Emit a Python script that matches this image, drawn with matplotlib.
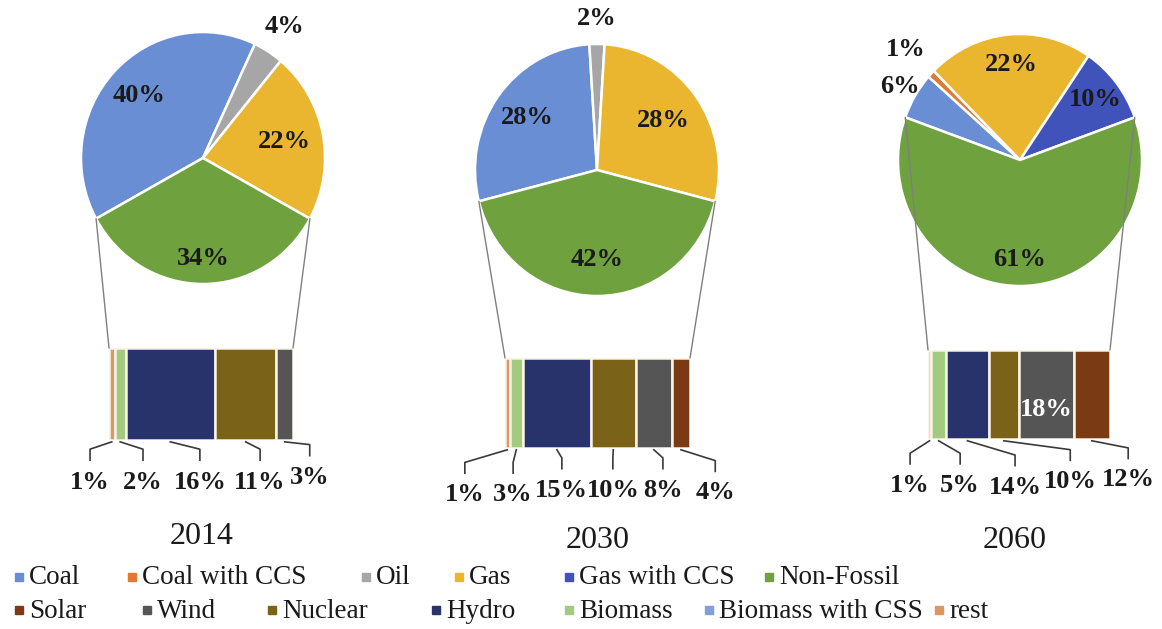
import numpy as np
import matplotlib.pyplot as plt
from matplotlib.patches import ConnectionPatch, Rectangle

plt.rcParams["font.family"] = ["Liberation Serif", "DejaVu Serif"]

W, H = 1162, 629

# ----- data -----

years = ["2014", "2030", "2060"]

pie_2014_names = ["Coal", "Oil", "Gas", "Non-Fossil"]
pie_2014_values = [40, 4, 22, 34]
pie_2030_names = ["Coal", "Oil", "Gas", "Non-Fossil"]
pie_2030_values = [28, 2, 28, 42]
pie_2060_names = ["Coal", "Coal with CCS", "Gas", "Gas with CCS", "Non-Fossil"]
pie_2060_values = [6, 1, 22, 10, 61]

bar_2014_names = ["rest", "Biomass", "Hydro", "Nuclear", "Wind"]
bar_2014_values = [1, 2, 16, 11, 3]
bar_2030_names = ["rest", "Biomass", "Hydro", "Nuclear", "Wind", "Solar"]
bar_2030_values = [1, 3, 15, 10, 8, 4]
bar_2060_names = ["rest", "Biomass", "Hydro", "Nuclear", "Wind", "Solar"]
bar_2060_values = [1, 5, 14, 10, 18, 12]

legend_row1 = ["Coal", "Coal with CCS", "Oil", "Gas", "Gas with CCS", "Non-Fossil"]
legend_row2 = ["Solar", "Wind", "Nuclear", "Hydro", "Biomass", "Biomass with CSS", "rest"]

# ----- style / layout -----

colors = {
    "Coal": "#6A8ED4",
    "Coal with CCS": "#DF7A36",
    "Oil": "#A6A6A6",
    "Gas": "#EAB630",
    "Gas with CCS": "#4053BB",
    "Non-Fossil": "#6FA23E",
    "Solar": "#7A3B14",
    "Wind": "#555555",
    "Nuclear": "#7A6318",
    "Hydro": "#27336A",
    "Biomass": "#A3CB7F",
    "Biomass with CSS": "#7FA0DC",
    "rest": "#DE9663",
}

pies = {
    "2014": (pie_2014_names, pie_2014_values),
    "2030": (pie_2030_names, pie_2030_values),
    "2060": (pie_2060_names, pie_2060_values),
}
bars = {
    "2014": (bar_2014_names, bar_2014_values),
    "2030": (bar_2030_names, bar_2030_values),
    "2060": (bar_2060_names, bar_2060_values),
}

# pie centre (px) and radii
pie_center = {"2014": (203, 158), "2030": (597, 170), "2060": (1020, 160)}
rx, ry = 122, 126
# radial distance of each percentage label
pie_label_r = {
    "2014": [0.72, 1.24, 0.68, 0.80],
    "2030": [0.71, 1.20, 0.67, 0.71],
    "2060": [1.14, 1.28, 0.76, 0.78, 0.79],
}
# bar box in px: x0, y0, x1, y1
bar_box = {
    "2014": (109, 348, 293, 440),
    "2030": (505, 358, 690, 448),
    "2060": (928, 350, 1110, 439),
}
# label position below bar: x in data units, y in bar-height fractions
bar_label_x = {
    "2014": [-3.4, 6.1, 16.3, 27.1, 36.0],
    "2030": [-8.9, 1.8, 12.6, 23.9, 35.0, 46.6],
    "2060": [-5.9, 10.6, 28.7, 46.9, None, 66.0],
}
bar_label_y = {
    "2014": [-0.46, -0.46, -0.46, -0.46, -0.41],
    "2030": [-0.52, -0.52, -0.47, -0.47, -0.47, -0.50],
    "2060": [-0.52, -0.52, -0.54, -0.48, None, -0.46],
}
year_pos = {"2014": (202, 536), "2030": (598, 540), "2060": (1015, 540)}

fig = plt.figure(figsize=(W / 100, H / 100), dpi=100)


def px_rect(x0, y0, x1, y1):
    return [x0 / W, 1 - y1 / H, (x1 - x0) / W, (y1 - y0) / H]


for year in years:
    names, values = pies[year]
    cx, cy = pie_center[year]
    ext = 1.5
    pax = fig.add_axes(px_rect(cx - ext * rx, cy - ext * ry, cx + ext * rx, cy + ext * ry))
    green = values[-1] * 3.6
    wedges, _ = pax.pie(
        values,
        colors=[colors[n] for n in names],
        startangle=270 - green / 2,
        counterclock=False,
        wedgeprops=dict(edgecolor="white", linewidth=1.8),
    )
    pax.set_aspect("auto")
    pax.set_xlim(-ext, ext)
    pax.set_ylim(-ext, ext)
    for w, v, d in zip(wedges, values, pie_label_r[year]):
        mid = np.deg2rad((w.theta1 + w.theta2) / 2)
        pax.text(d * np.cos(mid), d * np.sin(mid), f"{v}%", ha="center", va="center",
                 fontsize=19, fontweight="bold", color="#1a1a1a")

    # bar of the split slice
    bnames, bvalues = bars[year]
    total = sum(bvalues)
    bax = fig.add_axes(px_rect(*bar_box[year]))
    lefts = np.concatenate([[0], np.cumsum(bvalues)[:-1]])
    bax.barh(0.5, bvalues, left=lefts, height=1.0,
             color=[colors[n] for n in bnames], edgecolor="#FBF4E6", linewidth=1.8)
    bax.set_xlim(0, total)
    bax.set_ylim(0, 1)
    bax.axis("off")

    # connector lines from the slice edges to the bar corners
    gw = wedges[-1]
    for theta, xb in [(gw.theta1, 0), (gw.theta2, total)]:
        t = np.deg2rad(theta)
        con = ConnectionPatch(xyA=(np.cos(t), np.sin(t)), coordsA=pax.transData,
                              xyB=(xb, 1), coordsB=bax.transData,
                              color="#7f7f7f", linewidth=1.0)
        fig.add_artist(con)

    # bar labels with leader lines
    for left, v, lx, ly in zip(lefts, bvalues, bar_label_x[year], bar_label_y[year]):
        xc = left + v / 2
        if lx is None:
            bax.text(xc, 0.33, f"{v}%", ha="center", va="center", fontsize=19,
                     fontweight="bold", color="white")
            continue
        bax.plot([xc, lx, lx], [-0.02, ly + 0.36, ly + 0.24], color="#3a3a3a",
                 linewidth=1.2, clip_on=False)
        bax.text(lx, ly, f"{v}%", ha="center", va="center", fontsize=19,
                 fontweight="bold", color="#1a1a1a")

    yx, yy = year_pos[year]
    fig.text(yx / W, 1 - yy / H, year, ha="center", va="center", fontsize=23, color="#1a1a1a")

# legend, two rows
legend_x = [
    [15, 128, 362, 455, 565, 765],
    [15, 143, 268, 432, 565, 705, 935],
]
for row, xs, yc in [(legend_row1, legend_x[0], 577), (legend_row2, legend_x[1], 610)]:
    for name, x in zip(row, xs):
        fig.add_artist(Rectangle((x / W, 1 - (yc + 4) / H), 8 / W, 8 / H,
                                 transform=fig.transFigure, color=colors[name]))
        fig.text((x + 14) / W, 1 - (yc + 1) / H, name, ha="left", va="center",
                 fontsize=19.5, color="#1a1a1a")

fig.savefig("out.png", dpi=100, facecolor="white")
